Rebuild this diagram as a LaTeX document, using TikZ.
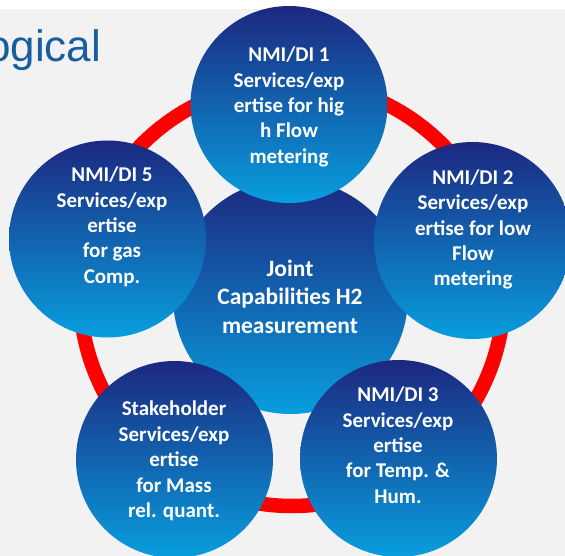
\documentclass[tikz,border=0pt]{standalone}
\usepackage{fontspec}
\setmainfont{Carlito}
\newfontfamily\titlefont{Liberation Sans}
\definecolor{bgray}{RGB}{242,242,242}
\definecolor{navy}{RGB}{28,40,128}
\definecolor{sky}{RGB}{8,158,222}
\definecolor{titleblue}{RGB}{24,94,158}
\begin{document}
\begin{tikzpicture}[x=1pt,y=-1pt,
  disc/.style={circle, minimum size=197pt, inner sep=0pt, draw=none, top color=navy, bottom color=sky},
  hub/.style={circle, minimum size=235pt, inner sep=0pt, draw=none, top color=navy, bottom color=sky},
  disctext/.style={align=center, inner sep=0pt, text=white, font=\fontsize{21}{25.4}\selectfont\bfseries},
  hubtext/.style={align=center, inner sep=0pt, text=white, font=\fontsize{23.5}{28.7}\selectfont\bfseries},
  ringline/.style={draw=red, line width=14.5pt}]
\useasboundingbox (0,0) rectangle (565,556);
\clip (0,0) rectangle (565,556);
\fill[white] (0,0) rectangle (565,556);
\fill[bgray] (0,9) rectangle (565,556);
\node[anchor=base west, inner sep=0pt, font=\titlefont\fontsize{44}{50}\selectfont, text=titleblue] (title) at (-14,62) {ogical};
\coordinate (ringc) at (292,294);
\draw[ringline] (ringc) circle[radius=212];
\node[hub] (hub) at (290.5,296.5) {};
\node[disc] (c1) at (289,104.5) {};
\node[disc] (c2) at (472.5,240.5) {};
\node[disc] (c3) at (398.5,458.5) {};
\node[disc] (c4) at (174.5,459.5) {};
\node[disc] (c5) at (107.5,239) {};
\node[hubtext] (thub) at (290,299) {\strut Joint\\Capabilities H2\\measurement\strut};
\node[disctext] (t1) at (289,107.4) {\strut NMI/DI 1\\Services/exp\\ertise for hig\\h Flow\\metering\strut};
\node[disctext] (t2) at (473,230) {\strut NMI/DI 2\\Services/exp\\ertise for low\\Flow\\metering\strut};
\node[disctext] (t3) at (398,447.4) {\strut NMI/DI 3\\Services/exp\\ertise\\for Temp. \&\\Hum.\strut};
\node[disctext] (t4) at (174,461.7) {\strut Stakeholder\\Services/exp\\ertise\\for Mass\\rel. quant.\strut};
\node[disctext] (t5) at (112,227.4) {\strut NMI/DI 5\\Services/exp\\ertise\\for gas\\Comp.\strut};
\end{tikzpicture}
\end{document}
